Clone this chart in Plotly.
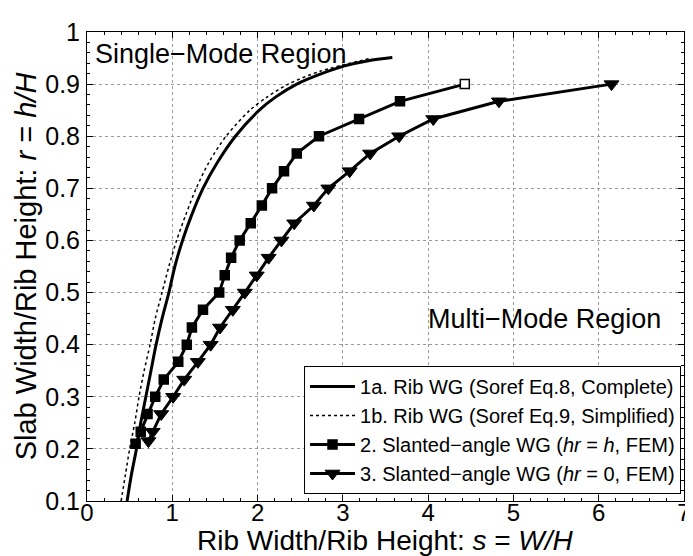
import plotly.graph_objects as go

# ---- data ----
eq8_r = [0.1, 0.15, 0.2, 0.25, 0.3, 0.35, 0.4, 0.45, 0.5, 0.55, 0.6, 0.65, 0.7, 0.75, 0.8, 0.85, 0.875, 0.9, 0.92, 0.935, 0.945, 0.951]
eq8_s = [0.47, 0.52, 0.58, 0.63, 0.69, 0.75, 0.81, 0.88, 0.96, 1.03, 1.12, 1.23, 1.36, 1.53, 1.74, 2.02, 2.21, 2.46, 2.75, 3.02, 3.3, 3.58]

eq9_r = [0.1, 0.15, 0.2, 0.25, 0.3, 0.35, 0.4, 0.45, 0.5, 0.55, 0.6, 0.65, 0.7, 0.75, 0.8, 0.85, 0.875, 0.9, 0.925, 0.95]
eq9_s = [0.40, 0.45, 0.50, 0.56, 0.61, 0.67, 0.74, 0.80, 0.88, 0.96, 1.05, 1.16, 1.28, 1.43, 1.63, 1.91, 2.11, 2.36, 2.74, 3.34]

wg2_r = [0.21, 0.233, 0.267, 0.3, 0.333, 0.367, 0.4, 0.433, 0.467, 0.5, 0.533, 0.567, 0.6, 0.633, 0.667, 0.7, 0.733, 0.767, 0.8, 0.833, 0.867, 0.9]
wg2_s = [0.57, 0.63, 0.71, 0.80, 0.90, 1.07, 1.17, 1.23, 1.36, 1.55, 1.615, 1.69, 1.79, 1.92, 2.05, 2.17, 2.31, 2.46, 2.72, 3.19, 3.67, 4.43]

wg3_r = [0.215, 0.233, 0.267, 0.3, 0.333, 0.367, 0.4, 0.433, 0.467, 0.5, 0.533, 0.567, 0.6, 0.633, 0.667, 0.7, 0.733, 0.767, 0.8, 0.833, 0.867, 0.9]
wg3_s = [0.72, 0.77, 0.87, 1.01, 1.14, 1.30, 1.45, 1.56, 1.71, 1.85, 1.99, 2.13, 2.28, 2.43, 2.66, 2.83, 3.08, 3.32, 3.66, 4.06, 4.83, 6.15]

names = [
    "1a. Rib WG (Soref Eq.8, Complete)",
    "1b. Rib WG (Soref Eq.9, Simplified)",
    "2. Slanted\u2212angle WG (<i>hr</i> = <i>h</i>, FEM)",
    "3. Slanted\u2212angle WG (<i>hr</i> = 0, FEM)",
]
x_title = "Rib Width/Rib Height: <i>s</i> = <i>W/H</i>"
y_title = "Slab Width/Rib Height: <i>r</i> = <i>h/H</i>"
x_ticks = [0, 1, 2, 3, 4, 5, 6, 7]
y_ticks = [0.1, 0.2, 0.3, 0.4, 0.5, 0.6, 0.7, 0.8, 0.9, 1.0]
y_tick_text = ["0.1", "0.2", "0.3", "0.4", "0.5", "0.6", "0.7", "0.8", "0.9", "1"]

FONT = "Liberation Sans, Arial, sans-serif"

fig = go.Figure()
fig.add_trace(go.Scatter(x=eq8_s, y=eq8_r, mode="lines", name=names[0],
                         line=dict(color="black", width=3, shape="spline", smoothing=0.8)))
fig.add_trace(go.Scatter(x=eq9_s, y=eq9_r, mode="lines", name=names[1],
                         line=dict(color="black", width=1.5, dash="dot", shape="spline", smoothing=0.8)))
sq_fill = ["black"] * (len(wg2_s) - 1) + ["white"]
fig.add_trace(go.Scatter(x=wg2_s, y=wg2_r, mode="lines+markers", name=names[2],
                         line=dict(color="black", width=3),
                         marker=dict(symbol="square", size=9, color=sq_fill,
                                     line=dict(color="black", width=1.5))))
fig.add_trace(go.Scatter(x=wg3_s, y=wg3_r, mode="lines+markers", name=names[3],
                         line=dict(color="black", width=3),
                         marker=dict(symbol="triangle-down", size=13, color="black",
                                     line=dict(color="black", width=1))))

axis_common = dict(
    showline=True, linecolor="black", linewidth=1, mirror="ticks",
    ticks="inside", ticklen=6, tickcolor="black", tickwidth=1,
    showgrid=True, gridcolor="#9a9a9a", griddash="dot", gridwidth=1,
    zeroline=False,
)

fig.update_xaxes(range=[0, 7], tickvals=x_ticks, **axis_common,
                 tickfont=dict(family=FONT, size=24, color="black"),
                 minor=dict(dtick=0.2, ticks="inside", ticklen=3, tickcolor="black", showgrid=False),
                 ticklabelstandoff=-10)
fig.update_yaxes(range=[0.1, 1.0], tickvals=y_ticks, ticktext=y_tick_text, **axis_common,
                 tickfont=dict(family=FONT, size=25, color="black"),
                 minor=dict(dtick=0.02, ticks="inside", ticklen=3, tickcolor="black", showgrid=False),
                 ticklabelstandoff=1,
                 title=dict(text=y_title,
                            font=dict(family=FONT, size=29, color="black"), standoff=0))

# x-axis title as paper-anchored text so it sits as close to the tick labels as in the reference
fig.add_annotation(x=0.5, y=-0.084, xref="paper", yref="paper", text=x_title,
                   showarrow=False, xanchor="center", yanchor="middle",
                   font=dict(family=FONT, size=28, color="black"))

fig.add_annotation(x=0.07, y=0.958, xref="x", yref="y", text="Single\u2212Mode Region",
                   showarrow=False, xanchor="left", yanchor="middle",
                   font=dict(family=FONT, size=27, color="black"))
fig.add_annotation(x=3.98, y=0.45, xref="x", yref="y", text="Multi\u2212Mode Region",
                   showarrow=False, xanchor="left", yanchor="middle",
                   font=dict(family=FONT, size=27, color="black"))

fig.update_layout(
    width=693, height=556,
    margin=dict(l=79, r=10, t=18, b=63),
    paper_bgcolor="white", plot_bgcolor="white",
    font=dict(family=FONT, color="black"),
    showlegend=True,
    legend=dict(x=0.995, y=0.015, xanchor="right", yanchor="bottom",
                bgcolor="white", bordercolor="black", borderwidth=1,
                font=dict(family=FONT, size=20, color="black"),
                itemwidth=45, tracegroupgap=0),
)

fig.write_html("out.html")
